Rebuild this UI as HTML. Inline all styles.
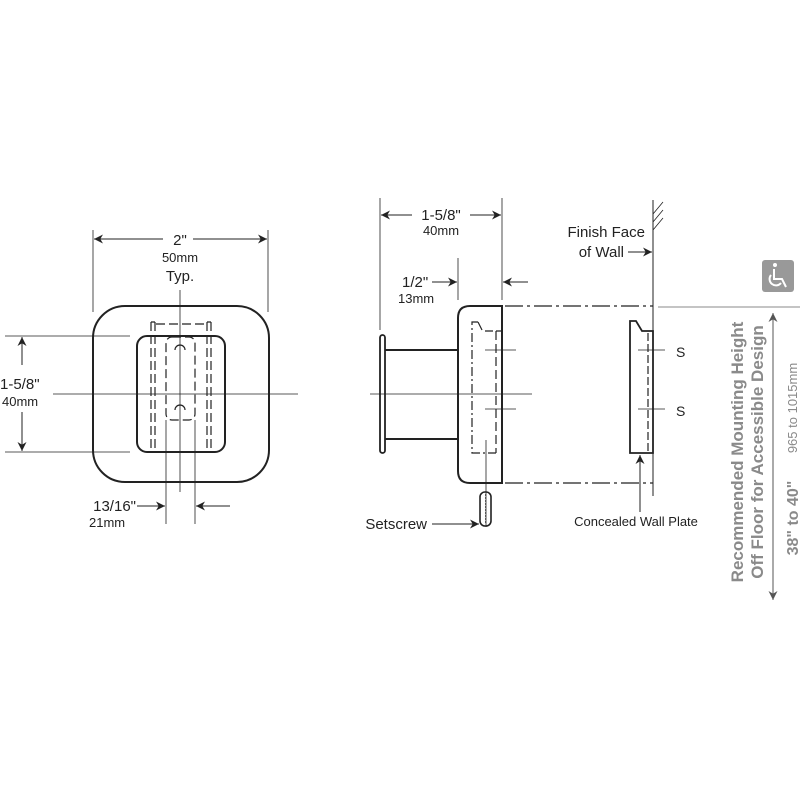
<!DOCTYPE html>
<html><head><meta charset="utf-8"><style>
html,body{margin:0;padding:0;background:#fff}
svg{display:block}
text{font-family:"Liberation Sans",Arial,sans-serif}
</style></head><body>
<svg width="800" height="800" viewBox="0 0 800 800" xmlns="http://www.w3.org/2000/svg">
<defs>
<marker id="a" viewBox="0 0 10 10" refX="10" refY="5" markerWidth="13" markerHeight="9" orient="auto-start-reverse" markerUnits="userSpaceOnUse"><path d="M0,0 L10,5 L0,10 L3,5 z" fill="#222"/></marker>
<marker id="g" viewBox="0 0 10 10" refX="10" refY="5" markerWidth="13" markerHeight="9" orient="auto-start-reverse" markerUnits="userSpaceOnUse"><path d="M0,0 L10,5 L0,10 L3,5 z" fill="#555"/></marker>
</defs>
<g stroke="#222" fill="none">
<rect x="93" y="306" width="176" height="176" rx="32" stroke-width="2"/>
<rect x="137" y="336" width="88" height="116" rx="10" stroke-width="2"/>
<g stroke-width="1.2" stroke-dasharray="9,4">
<line x1="151" y1="322" x2="151" y2="452"/><line x1="155" y1="322" x2="155" y2="452"/>
<line x1="207" y1="322" x2="207" y2="452"/><line x1="211" y1="322" x2="211" y2="452"/>
<line x1="156" y1="324" x2="207" y2="324"/>
<rect x="166" y="337" width="29" height="83" rx="6"/>
</g>
<path d="M151,322 h4 M207,322 h4" stroke-width="1.2"/>
<path d="M175,350 a5,5 0 1 1 10,0 M175,410 a5,5 0 1 1 10,0" stroke-width="1.2"/>
<line x1="180" y1="290" x2="180" y2="492" stroke-width="0.8"/>
<line x1="53" y1="394" x2="298" y2="394" stroke-width="0.8"/>
<line x1="166" y1="420" x2="166" y2="524" stroke-width="0.8"/>
<line x1="195" y1="420" x2="195" y2="524" stroke-width="0.8"/>
<line x1="93" y1="230" x2="93" y2="312" stroke-width="0.8"/>
<line x1="268" y1="230" x2="268" y2="312" stroke-width="0.8"/>
<line x1="163" y1="239" x2="94" y2="239" stroke-width="1" marker-end="url(#a)"/>
<line x1="193" y1="239" x2="267" y2="239" stroke-width="1" marker-end="url(#a)"/>
<line x1="5" y1="336" x2="130" y2="336" stroke-width="0.8"/>
<line x1="5" y1="452" x2="130" y2="452" stroke-width="0.8"/>
<line x1="22" y1="365" x2="22" y2="337" stroke-width="1" marker-end="url(#a)"/>
<line x1="22" y1="412" x2="22" y2="451" stroke-width="1" marker-end="url(#a)"/>
<line x1="137" y1="506" x2="165" y2="506" stroke-width="1" marker-end="url(#a)"/>
<line x1="230" y1="506" x2="196" y2="506" stroke-width="1" marker-end="url(#a)"/>

<rect x="380" y="335" width="5" height="118" rx="2.5" stroke-width="1.8"/>
<line x1="385" y1="350" x2="458" y2="350" stroke-width="2"/>
<line x1="385" y1="439" x2="458" y2="439" stroke-width="2"/>
<path d="M502,306 H470 Q458,306 458,318 V471 Q458,483 470,483 H502 Z" stroke-width="2"/>
<path d="M478,322 H472 V453 H496" stroke-width="1.2" stroke-dasharray="9,3,2,3"/>
<path d="M478,322 L482,330" stroke-width="1.2"/>
<line x1="485" y1="331" x2="502" y2="331" stroke-width="1.2" stroke-dasharray="8,3"/>
<line x1="496" y1="331" x2="496" y2="453" stroke-width="1.2" stroke-dasharray="9,4"/>
<line x1="370" y1="394" x2="532" y2="394" stroke-width="0.8"/>
<line x1="485" y1="350" x2="516" y2="350" stroke-width="0.8"/>
<line x1="485" y1="409" x2="516" y2="409" stroke-width="0.8"/>
<line x1="486" y1="440" x2="486" y2="527" stroke-width="0.8"/>
<rect x="480" y="492" width="11" height="34" rx="5" stroke-width="1.6"/>
<line x1="485.5" y1="494" x2="485.5" y2="524" stroke-width="0.6" stroke-dasharray="2,1"/>
<line x1="432" y1="524" x2="479" y2="524" stroke-width="1" marker-end="url(#a)"/>
<g stroke-width="1.2" stroke-dasharray="18,4,3,4">
<line x1="505" y1="306" x2="653" y2="306"/>
<line x1="505" y1="483" x2="653" y2="483"/>
</g>
<line x1="653" y1="200" x2="653" y2="496" stroke-width="1"/>
<path d="M653,214 L663,202 M653,222 L663,210 M653,230 L663,218" stroke-width="0.8"/>
<path d="M630,453 V321 H636 L642,331 H653 V453 Z" stroke-width="1.8"/>
<line x1="648" y1="333" x2="648" y2="452" stroke-width="1.2" stroke-dasharray="8,3"/>
<line x1="638" y1="350" x2="665" y2="350" stroke-width="0.8"/>
<line x1="638" y1="409" x2="665" y2="409" stroke-width="0.8"/>
<line x1="640" y1="512" x2="640" y2="455" stroke-width="1" marker-end="url(#a)"/>
<line x1="380" y1="198" x2="380" y2="330" stroke-width="0.8"/>
<line x1="502" y1="198" x2="502" y2="300" stroke-width="0.8"/>
<line x1="458" y1="258" x2="458" y2="300" stroke-width="0.8"/>
<line x1="412" y1="215" x2="381" y2="215" stroke-width="1" marker-end="url(#a)"/>
<line x1="470" y1="215" x2="501" y2="215" stroke-width="1" marker-end="url(#a)"/>
<line x1="432" y1="282" x2="457" y2="282" stroke-width="1" marker-end="url(#a)"/>
<line x1="528" y1="282" x2="503" y2="282" stroke-width="1" marker-end="url(#a)"/>
<line x1="628" y1="252" x2="652" y2="252" stroke-width="1" marker-end="url(#a)"/>
<line x1="658" y1="307" x2="800" y2="307" stroke="#888" stroke-width="1"/>
<line x1="773" y1="500" x2="773" y2="313" stroke="#555" stroke-width="1" marker-end="url(#g)"/>
<line x1="773" y1="500" x2="773" y2="600" stroke="#555" stroke-width="1" marker-end="url(#g)"/>
</g>
<rect x="762" y="260" width="32" height="32" rx="3" fill="#999"/>
<g stroke="#fff" fill="none" stroke-width="2">
<circle cx="775" cy="265" r="2" fill="#fff" stroke="none"/>
<path d="M774,269 V279 H782 L786,287"/>
<path d="M771,275 a6,6 0 1 0 10,8"/>
</g>
<g style="fill:#222">
<text x="180" y="245" font-size="15" text-anchor="middle">2"</text>
<text x="180" y="262" font-size="13" text-anchor="middle">50mm</text>
<text x="180" y="281" font-size="15" text-anchor="middle">Typ.</text>
<text x="0" y="389" font-size="15">1-5/8"</text>
<text x="2" y="406" font-size="13">40mm</text>
<text x="136" y="511" font-size="15" text-anchor="end">13/16"</text>
<text x="89" y="527" font-size="13">21mm</text>
<text x="441" y="220" font-size="15" text-anchor="middle">1-5/8"</text>
<text x="441" y="235" font-size="13" text-anchor="middle">40mm</text>
<text x="402" y="287" font-size="15">1/2"</text>
<text x="398" y="303" font-size="13">13mm</text>
<text x="645" y="237" font-size="15" text-anchor="end">Finish Face</text>
<text x="624" y="257" font-size="15" text-anchor="end">of Wall</text>
<text x="676" y="357" font-size="14">S</text>
<text x="676" y="416" font-size="14">S</text>
<text x="427" y="529" font-size="15" text-anchor="end">Setscrew</text>
<text x="636" y="526" font-size="13" text-anchor="middle">Concealed Wall Plate</text>
</g>
<g style="fill:#8a8a8a" font-weight="bold" font-size="17">
<text transform="translate(743,452) rotate(-90)" text-anchor="middle">Recommended Mounting Height</text>
<text transform="translate(763,452) rotate(-90)" text-anchor="middle">Off Floor for Accessible Design</text>
<text transform="translate(798,518) rotate(-90)" text-anchor="middle" font-size="16">38" to 40"</text>
<text transform="translate(797,408) rotate(-90)" text-anchor="middle" font-size="13" font-weight="normal">965 to 1015mm</text>
</g>
</svg>
</body></html>
